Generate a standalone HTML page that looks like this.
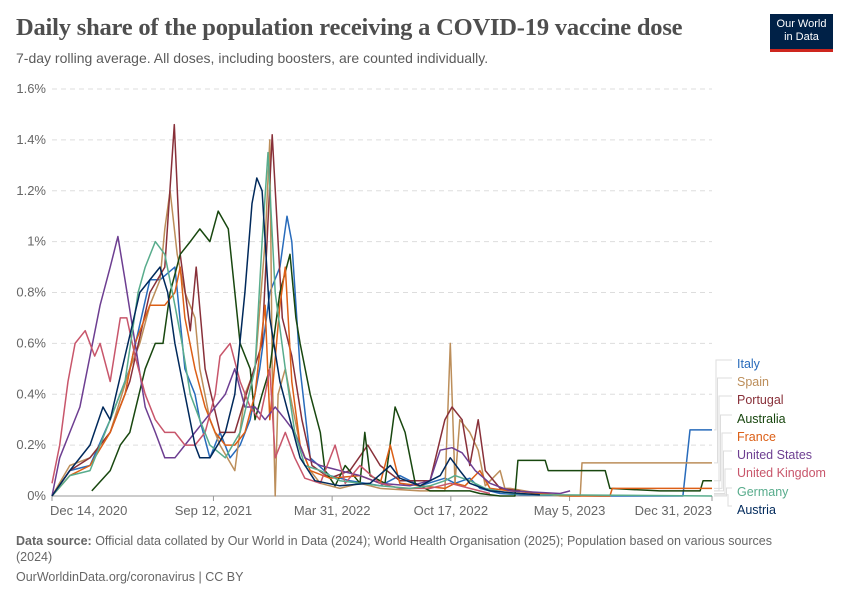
<!DOCTYPE html>
<html><head><meta charset="utf-8"><style>
body{margin:0;background:#fff;width:850px;height:600px;overflow:hidden;font-family:"Liberation Sans",sans-serif;}
#title{position:absolute;left:16px;top:14px;font-family:"Liberation Serif",serif;font-size:24.5px;color:#4e4e4e;font-weight:bold;letter-spacing:-0.2px;}
#sub{position:absolute;left:16px;top:50px;font-size:14px;color:#5b5b5b;}
#logo{position:absolute;left:770px;top:14px;width:63px;height:38px;background:#002147;border-bottom:3px solid #ce261e;color:#fff;font-size:11px;text-align:center;line-height:13px;padding-top:4px;box-sizing:border-box;}
#src{position:absolute;left:16px;top:533px;font-size:12.5px;color:#666;width:790px;line-height:16px;}
#url{position:absolute;left:16px;top:570px;font-size:12.5px;color:#666;}
</style></head><body>
<div id="title">Daily share of the population receiving a COVID-19 vaccine dose</div>
<div id="sub">7-day rolling average. All doses, including boosters, are counted individually.</div>
<div id="logo">Our World<br>in Data</div>
<svg id="chart" width="850" height="600" style="position:absolute;left:0;top:0"></svg>
<div id="src"><b>Data source:</b> Official data collated by Our World in Data (2024); World Health Organisation (2025); Population based on various sources (2024)</div>
<div id="url">OurWorldinData.org/coronavirus | CC BY</div>
<script>
const yTicks=[0,0.2,0.4,0.6,0.8,1,1.2,1.4,1.6];
const yTickLabels=["0%","0.2%","0.4%","0.6%","0.8%","1%","1.2%","1.4%","1.6%"];
const xTickDays=[0,272,472,672,872,1112];
const xTickLabels=["Dec 14, 2020","Sep 12, 2021","Mar 31, 2022","Oct 17, 2022","May 5, 2023","Dec 31, 2023"];
const seriesNames=["Italy","Spain","Portugal","Australia","France","United States","United Kingdom","Germany","Austria"];
const seriesColors=["#286bbb","#bc8e5a","#883039","#18470f","#dc5f16","#6d3e91","#c8566b","#58ac8c","#00295b"];
const italyDays=[0,30,64,98,131,165,182,207,224,241,249,266,283,300,317,334,350,367,384,396,404,418,435,468,502,553,586,620,662,679,704,721,755,789,923,1063,1075,1112];
const italyVals=[0,0.1,0.12,0.3,0.5,0.85,0.85,0.9,0.5,0.4,0.3,0.15,0.25,0.15,0.2,0.3,0.5,0.8,0.9,1.1,1.0,0.5,0.15,0.08,0.06,0.04,0.08,0.04,0.07,0.05,0.07,0.03,0.01,0.005,0,0,0.26,0.26];
const spainDays=[0,30,64,98,131,148,165,182,190,199,211,224,241,249,266,283,308,325,342,359,367,371,376,381,393,401,418,435,452,485,519,553,620,662,671,679,687,704,718,730,755,763,772,822,856,890,893,1112];
const spainVals=[0,0.12,0.15,0.25,0.5,0.6,0.75,0.85,1.05,1.2,0.95,0.8,0.7,0.5,0.3,0.2,0.1,0.4,0.5,1.0,1.4,0.5,0,0.4,0.5,0.4,0.2,0.1,0.05,0.03,0.05,0.03,0.02,0.02,0.6,0.05,0.3,0.25,0.18,0.04,0.1,0.03,0.03,0.01,0,0,0.13,0.13];
const portugalDays=[0,30,64,98,131,165,190,206,216,233,243,258,283,308,334,354,371,388,404,421,438,468,502,532,553,586,637,662,674,691,704,718,730,755,789];
const portugalVals=[0,0.1,0.15,0.25,0.45,0.8,0.9,1.46,0.95,0.65,0.9,0.5,0.25,0.25,0.45,0.6,1.42,0.7,0.55,0.3,0.12,0.07,0.1,0.2,0.12,0.06,0.06,0.3,0.35,0.3,0.12,0.3,0.1,0.03,0.02];
const australiaDays=[67,98,115,131,157,174,187,199,216,233,249,266,280,297,317,334,342,354,367,384,401,411,418,435,452,460,477,494,519,527,536,561,578,595,612,637,687,704,721,755,780,785,831,836,932,940,1024,1092,1097,1112];
const australiaVals=[0.02,0.1,0.2,0.25,0.5,0.6,0.6,0.8,0.95,1.0,1.05,1.0,1.12,1.05,0.6,0.5,0.3,0.4,0.5,0.8,0.95,0.7,0.6,0.4,0.25,0.1,0.04,0.12,0.05,0.25,0.08,0.05,0.35,0.25,0.05,0.02,0.02,0.02,0.01,0,0,0.14,0.14,0.1,0.1,0.03,0.02,0.02,0.06,0.06];
const franceDays=[0,30,64,98,123,140,165,190,207,216,224,241,258,275,292,308,325,342,359,367,384,393,404,418,435,468,519,553,570,586,620,662,679,696,721,738,772,822,873,940,944,1112];
const franceVals=[0,0.08,0.12,0.25,0.4,0.6,0.75,0.75,0.8,0.9,0.7,0.5,0.35,0.25,0.2,0.2,0.25,0.4,0.75,0.3,0.75,0.9,0.45,0.2,0.1,0.07,0.08,0.05,0.2,0.05,0.04,0.03,0.05,0.04,0.1,0.03,0.02,0.01,0,0,0.03,0.03];
const usDays=[0,13,30,47,64,81,98,111,123,140,157,174,190,207,224,241,258,275,292,308,325,342,359,376,393,409,426,452,485,519,553,603,637,654,674,691,713,738,772,856,873];
const usVals=[0,0.15,0.25,0.35,0.55,0.75,0.9,1.02,0.85,0.6,0.35,0.25,0.15,0.15,0.2,0.25,0.3,0.35,0.4,0.5,0.35,0.35,0.3,0.35,0.3,0.25,0.15,0.12,0.1,0.08,0.05,0.04,0.06,0.18,0.19,0.17,0.1,0.05,0.02,0.01,0.02];
const ukDays=[0,13,27,39,56,72,81,98,115,126,140,157,174,190,207,224,241,258,275,283,300,317,334,350,359,367,376,393,409,426,452,477,494,519,553,586,637,671,704,738];
const ukVals=[0.05,0.2,0.45,0.6,0.65,0.55,0.6,0.45,0.7,0.7,0.55,0.4,0.3,0.25,0.25,0.2,0.2,0.25,0.4,0.55,0.6,0.45,0.35,0.3,0.4,0.5,0.15,0.25,0.15,0.07,0.05,0.2,0.05,0.12,0.05,0.03,0.03,0.05,0.03,0.01];
const germanyDays=[0,30,64,98,123,145,157,174,190,207,219,233,249,266,292,317,342,354,364,376,393,409,426,452,485,519,553,603,637,662,679,704,730,772,822,1112];
const germanyVals=[0,0.08,0.1,0.3,0.45,0.8,0.9,1.0,0.95,0.75,0.6,0.4,0.3,0.2,0.15,0.25,0.5,1.0,1.35,0.8,0.5,0.25,0.12,0.1,0.06,0.05,0.04,0.03,0.04,0.06,0.08,0.06,0.03,0.01,0.005,0];
const austriaDays=[0,30,64,86,98,123,148,182,195,207,224,241,249,266,292,308,325,337,345,354,367,384,401,418,443,485,536,570,586,620,654,671,687,704,738,789,822];
const austriaVals=[0,0.1,0.2,0.35,0.3,0.55,0.8,0.9,0.8,0.6,0.4,0.2,0.15,0.15,0.25,0.4,0.8,1.15,1.25,1.2,0.7,0.45,0.3,0.15,0.06,0.04,0.05,0.12,0.07,0.04,0.08,0.15,0.1,0.05,0.02,0.01,0.005];
const allDays=[italyDays,spainDays,portugalDays,australiaDays,franceDays,usDays,ukDays,germanyDays,austriaDays];
const allVals=[italyVals,spainVals,portugalVals,australiaVals,franceVals,usVals,ukVals,germanyVals,austriaVals];

const NS="http://www.w3.org/2000/svg";
const svg=document.getElementById('chart');
const X0=52,X1=712,Y0=496,Y1=89,DMAX=1112,VMAX=1.6;
const xs=d=>X0+(X1-X0)*d/DMAX;
const ys=v=>Y0-(Y0-Y1)*v/VMAX;
function mk(tag,attrs){const e=document.createElementNS(NS,tag);for(const k in attrs)e.setAttribute(k,attrs[k]);svg.appendChild(e);return e;}
yTicks.forEach((t,i)=>{
  if(i>0){const g=mk('line',{x1:X0,x2:X1,y1:ys(t),y2:ys(t),stroke:'#ddd','stroke-dasharray':'5,4'});
  
  }
  const tx=mk('text',{x:46,y:ys(t)+4,'text-anchor':'end','font-size':13,fill:'#666'});
  tx.textContent=yTickLabels[i];
  
  
});
const ax=mk('line',{x1:X0,x2:X1,y1:Y0,y2:Y0,stroke:'#999'});


xTickDays.forEach((d,i)=>{
  const tk=mk('line',{x1:xs(d),x2:xs(d),y1:Y0,y2:Y0+5,stroke:'#999'});
  
  
  const anchor=i===0?'start':(i===xTickDays.length-1?'end':'middle');
  const tx=mk('text',{x:xs(d)+(i===0?-2:0),y:515,'text-anchor':anchor,'font-size':13,fill:'#666'});
  tx.textContent=xTickLabels[i];
  
  
});
const legendY=[364,382,400,419,437,455,473,492,510];
seriesNames.forEach((n,i)=>{
  const ds=allDays[i],vs=allVals[i];
  const pts=ds.map((d,j)=>xs(d).toFixed(1)+','+ys(vs[j]).toFixed(1)).join(' ');
  const pl=mk('polyline',{points:pts,fill:'none',stroke:seriesColors[i],'stroke-width':1.5,'stroke-linejoin':'round'});
  
  
  const endY=ys(vs[vs.length-1]);
  const lx=716+i*1.5;
  const cn=mk('polyline',{points:`714,${endY} ${lx},${endY} ${lx},${legendY[i]-4} 732,${legendY[i]-4}`,fill:'none',stroke:'#ddd','stroke-width':1});
  
  
  const lt=mk('text',{x:737,y:legendY[i]+4,'font-size':12.5,fill:seriesColors[i]});
  lt.textContent=n;
  
  
});
</script>
</body></html>
